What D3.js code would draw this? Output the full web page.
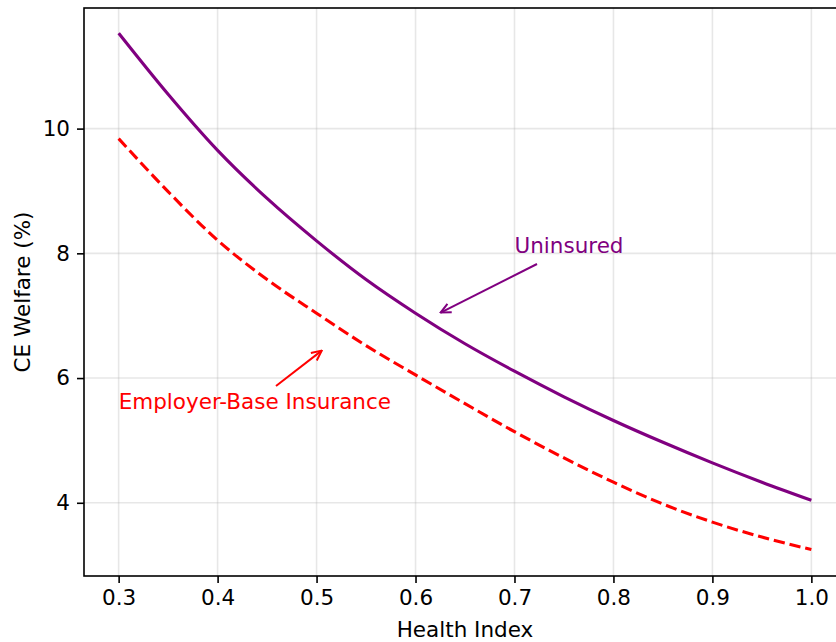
<!DOCTYPE html>
<html><head><meta charset="utf-8">
<script src="https://cdn.jsdelivr.net/npm/d3@7"></script>
<style>body{margin:0;background:#fff}svg{display:block}text{font-family:"DejaVu Sans",sans-serif}</style>
</head><body>
<script>
const healthIndex = [0.30,0.35,0.40,0.45,0.50,0.55,0.60,0.65,0.70,0.75,0.80,0.85,0.90,0.95,1.00];
const uninsured   = [11.53,10.55,9.65,8.88,8.20,7.58,7.04,6.55,6.11,5.70,5.32,4.97,4.64,4.33,4.04];
const employer    = [9.84,8.99,8.21,7.58,7.04,6.52,6.05,5.59,5.14,4.72,4.33,3.98,3.69,3.45,3.25];
const xTicks = [0.3,0.4,0.5,0.6,0.7,0.8,0.9,1.0];
const yTicks = [4,6,8,10];

const W = 836, H = 642;
const L = 84, R = 846, T = 8, B = 576;
const FS = 21.5;
const svg = d3.select("body").append("svg").attr("width", W).attr("height", H);

const x = d3.scaleLinear().domain([0.265, 1.035]).range([L, R]);
const y = d3.scaleLinear().domain([2.826, 11.934]).range([B, T]);

// grid
const g = svg.append("g");
g.selectAll(".gx").data(xTicks).join("line")
  .attr("x1", d => x(d)).attr("x2", d => x(d)).attr("y1", T).attr("y2", B)
  .attr("stroke", "#b0b0b0").attr("stroke-opacity", 0.3).attr("stroke-width", 1.6);
g.selectAll(".gy").data(yTicks).join("line")
  .attr("x1", L).attr("x2", R).attr("y1", d => y(d)).attr("y2", d => y(d))
  .attr("stroke", "#b0b0b0").attr("stroke-opacity", 0.3).attr("stroke-width", 1.6);

// lines
const pts = a => healthIndex.map((h, i) => [h, a[i]]);
const line = d3.line().x(d => x(d[0])).y(d => y(d[1])).curve(d3.curveMonotoneX);
svg.append("path").attr("d", line(pts(uninsured))).attr("fill", "none")
  .attr("stroke", "purple").attr("stroke-width", 3.1).attr("stroke-linejoin", "round");
svg.append("path").attr("d", line(pts(employer))).attr("fill", "none")
  .attr("stroke", "#ff0000").attr("stroke-width", 3.1).attr("stroke-dasharray", "11.3,4.9");

// axes
const xAxis = svg.append("g").attr("transform", `translate(0,${B})`)
  .call(d3.axisBottom(x).tickValues(xTicks).tickFormat(d3.format(".1f")).tickSize(7).tickPadding(7));
const yAxis = svg.append("g").attr("transform", `translate(${L},0)`)
  .call(d3.axisLeft(y).tickValues(yTicks).tickFormat(d3.format("d")).tickSize(7).tickPadding(7));
[xAxis, yAxis].forEach(a => {
  a.attr("font-size", FS).attr("font-family", "DejaVu Sans");
  a.select(".domain").remove();
  a.selectAll("line").attr("stroke", "#000").attr("stroke-width", 1.6);
  a.selectAll("text").attr("font-size", FS).attr("fill", "#000");
});
// spines
svg.append("rect").attr("x", L).attr("y", T).attr("width", R - L).attr("height", B - T)
  .attr("fill", "none").attr("stroke", "#000").attr("stroke-width", 1.6);

// labels
svg.append("text").attr("x", (L + R) / 2).attr("y", 637).attr("text-anchor", "middle")
  .attr("font-size", FS).text("Health Index");
svg.append("text").attr("transform", `translate(30,${(T + B) / 2}) rotate(-90)`)
  .attr("text-anchor", "middle").attr("font-size", FS).text("CE Welfare (%)");

// annotations
const defs = svg.append("defs");
function arrow(id, color) {
  defs.append("marker").attr("id", id).attr("viewBox", "0 0 12 12").attr("refX", 11).attr("refY", 6)
    .attr("markerWidth", 12).attr("markerHeight", 12).attr("markerUnits", "userSpaceOnUse").attr("orient", "auto")
    .append("path").attr("d", "M1,1.2 L11,6 L1,10.8").attr("fill", "none").attr("stroke", color)
    .attr("stroke-width", 2).attr("stroke-linejoin", "miter");
}
arrow("ap", "purple"); arrow("ar", "#ff0000");

svg.append("text").attr("x", x(0.70)).attr("y", 253).attr("font-size", FS).attr("fill", "purple").text("Uninsured");
svg.append("line").attr("x1", 537).attr("y1", 264).attr("x2", x(0.6254)).attr("y2", y(7.05))
  .attr("stroke", "purple").attr("stroke-width", 2).attr("marker-end", "url(#ap)");

svg.append("text").attr("x", x(0.30)).attr("y", 409).attr("font-size", FS).attr("fill", "#ff0000").text("Employer-Base Insurance");
svg.append("line").attr("x1", 276).attr("y1", 386).attr("x2", x(0.5052)).attr("y2", y(6.44))
  .attr("stroke", "#ff0000").attr("stroke-width", 2).attr("marker-end", "url(#ar)");
</script>
</body></html>
